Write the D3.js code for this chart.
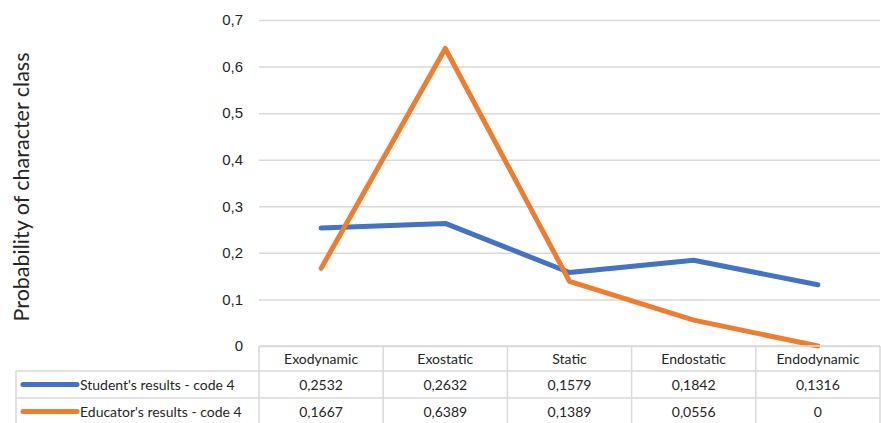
<!DOCTYPE html>
<html>
<head>
<meta charset="utf-8">
<script src="https://cdn.jsdelivr.net/npm/d3@7"></script>
<style>
  html, body { margin: 0; padding: 0; background: #fff; }
  svg { display: block; font-family: Lato, "Open Sans", "Liberation Sans", sans-serif; }
</style>
</head>
<body>
<svg id="chart" width="881" height="423"></svg>
<script>
// Character-class probabilities, code 4
const categories = ["Exodynamic", "Exostatic", "Static", "Endostatic", "Endodynamic"];
const studentValues = [0.2532, 0.2632, 0.1579, 0.1842, 0.1316];
const educatorValues = [0.1667, 0.6389, 0.1389, 0.0556, 0];
const seriesNames = ["Student's results - code 4", "Educator's results - code 4"];
const seriesColors = ["#4472C4", "#ED7D31"];
const yTicks = [0, 0.1, 0.2, 0.3, 0.4, 0.5, 0.6, 0.7];

const series = [
  { name: seriesNames[0], values: studentValues, color: seriesColors[0] },
  { name: seriesNames[1], values: educatorValues, color: seriesColors[1] }
];

const svg = d3.select("#chart");
const plotLeft = 259, plotRight = 880, plotTop = 20, plotBottom = 346;
const tableLeft = 16;
const rowH = 27;
const headerH = 25;

const x = d3.scaleBand().domain(categories).range([plotLeft, plotRight]).padding(0);
const y = d3.scaleLinear().domain([0, 0.7]).range([plotBottom, plotTop]);
const fmt = v => String(v).replace(".", ",");

// Gridlines
const yAxis = d3.axisLeft(y).tickValues(yTicks).tickSize(-(plotRight - plotLeft)).tickFormat(fmt).tickPadding(16);
const gy = svg.append("g").attr("transform", `translate(${plotLeft},0)`).call(yAxis);
gy.select(".domain").remove();
gy.selectAll(".tick line").attr("stroke", "#d9d9d9").attr("stroke-width", 1.5);
gy.selectAll(".tick text").attr("font-size", 15).attr("fill", "#262626");

// Axis title
svg.append("text")
  .attr("transform", `translate(29,${(plotTop + plotBottom) / 2 + 4}) rotate(-90)`)
  .attr("text-anchor", "middle")
  .attr("font-size", 21.5)
  .attr("fill", "#262626")
  .text("Probability of character class");

// Lines
const line = d3.line()
  .x((d, i) => x(categories[i]) + x.bandwidth() / 2)
  .y(d => y(d));

series.forEach(s => {
  svg.append("path")
    .datum(s.values)
    .attr("fill", "none")
    .attr("stroke", s.color)
    .attr("stroke-width", 5)
    .attr("stroke-linecap", "round")
    .attr("stroke-linejoin", "round")
    .attr("d", line);
});

// Data table
const gridColor = "#d9d9d9";
const tbl = svg.append("g");
const row1Top = plotBottom + headerH;
const tableBottom = row1Top + rowH * 2 + 2;

// horizontal rules
tbl.append("line").attr("x1", plotLeft).attr("x2", plotRight).attr("y1", plotBottom).attr("y2", plotBottom);
[0, 1, 2].forEach(i => {
  tbl.append("line").attr("x1", tableLeft).attr("x2", plotRight)
    .attr("y1", row1Top + i * rowH).attr("y2", row1Top + i * rowH);
});
// vertical rules
tbl.append("line").attr("x1", tableLeft).attr("x2", tableLeft).attr("y1", row1Top).attr("y2", tableBottom);
categories.forEach(c => {
  tbl.append("line").attr("x1", x(c)).attr("x2", x(c)).attr("y1", plotBottom).attr("y2", tableBottom);
});
tbl.append("line").attr("x1", plotRight).attr("x2", plotRight).attr("y1", plotBottom).attr("y2", tableBottom);
tbl.selectAll("line").attr("stroke", gridColor).attr("stroke-width", 1.5);

// header labels
tbl.selectAll("text.cat").data(categories).enter().append("text")
  .attr("x", d => x(d) + x.bandwidth() / 2)
  .attr("y", plotBottom + headerH / 2 + 5)
  .attr("text-anchor", "middle")
  .attr("font-size", 14)
  .attr("fill", "#262626")
  .text(d => d);

// series rows
series.forEach((s, r) => {
  const cy = row1Top + r * rowH + rowH / 2;
  tbl.append("line").attr("x1", tableLeft + 7).attr("x2", tableLeft + 61)
    .attr("y1", cy).attr("y2", cy)
    .attr("stroke", s.color).attr("stroke-width", 5).attr("stroke-linecap", "round");
  tbl.append("text").attr("x", tableLeft + 64).attr("y", cy + 5)
    .attr("font-size", 14).attr("fill", "#262626").text(s.name);
  s.values.forEach((v, i) => {
    tbl.append("text")
      .attr("x", x(categories[i]) + x.bandwidth() / 2)
      .attr("y", cy + 5)
      .attr("text-anchor", "middle")
      .attr("font-size", 14)
      .attr("fill", "#262626")
      .text(fmt(v));
  });
});
</script>
</body>
</html>
